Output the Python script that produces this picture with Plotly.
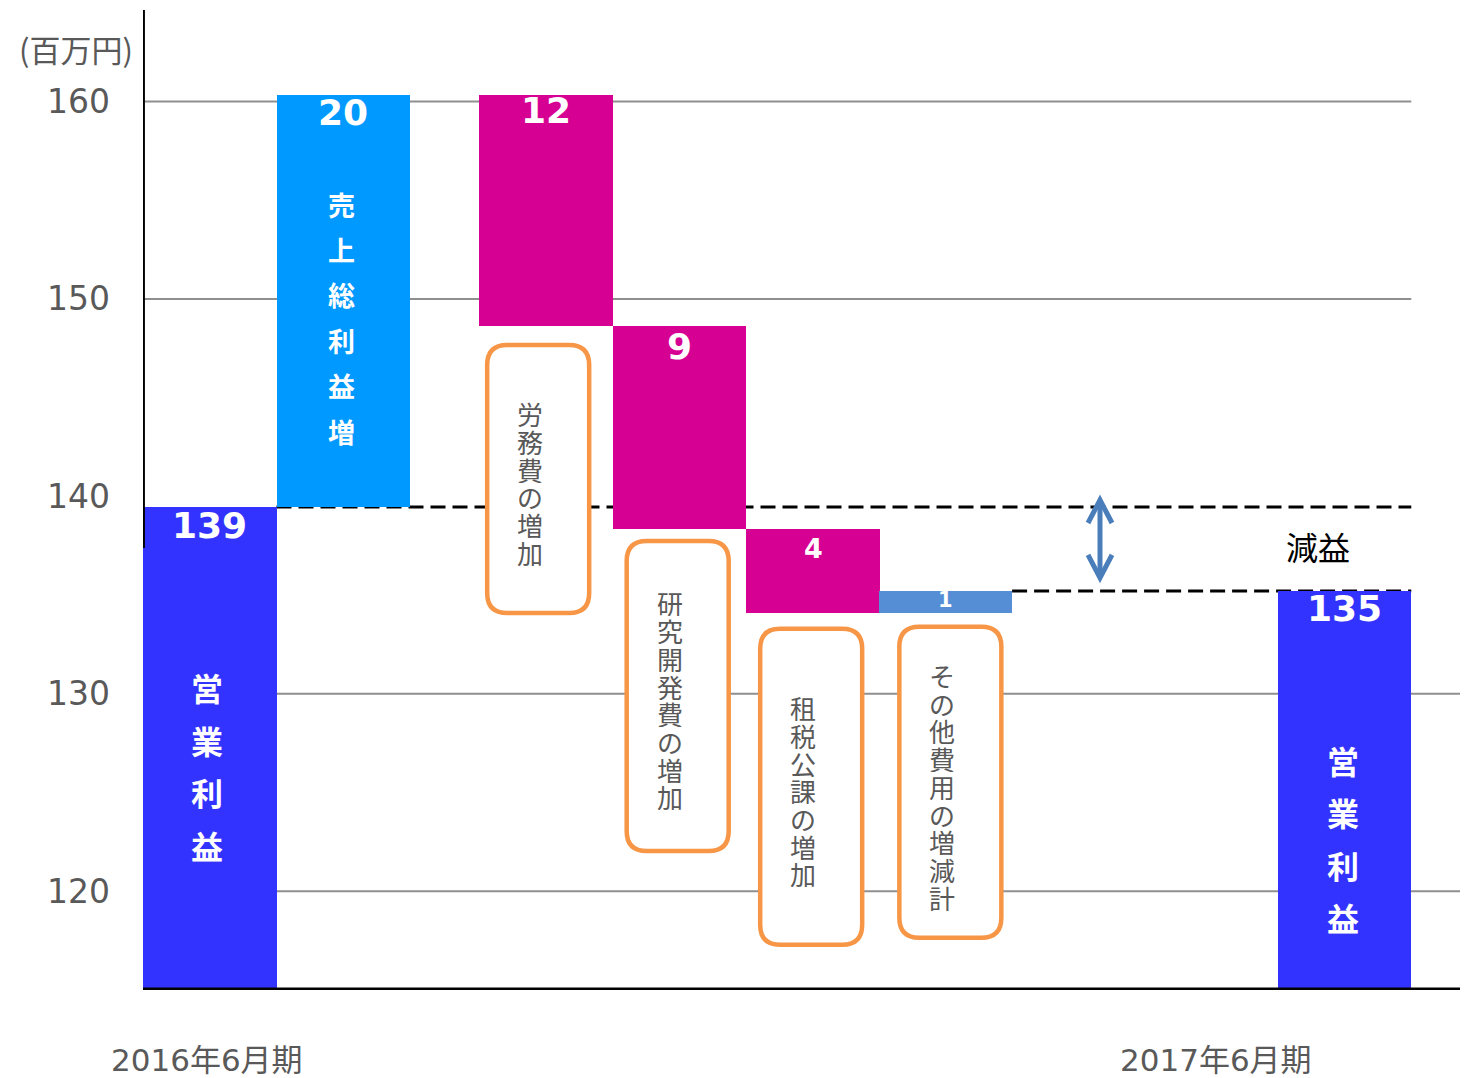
import plotly.graph_objects as go

# ---------------- data ----------------
steps = ["2016年6月期 営業利益", "売上総利益増", "労務費の増加", "研究開発費の増加",
         "租税公課の増加", "その他費用の増減計", "2017年6月期 営業利益"]
value_labels = ["139", "20", "12", "9", "4", "1", "135"]
bar_bottom = [115.0, 139.46, 148.63, 138.35, 134.10, 134.10, 115.0]
bar_top = [139.46, 160.33, 160.33, 148.63, 138.35, 135.21, 135.21]
step_slot = [0.5, 1.5, 3.02, 4.02, 5.02, 6.01, 9.0]
periods = ["2016年6月期", "2017年6月期"]
period_slot = [0.48, 8.04]
unit_label = "(百万円)"
y_ticks = [120, 130, 140, 150, 160]
inner_text = {0: "営業利益", 1: "売上総利益増", 6: "営業利益"}
box_text = {2: "労務費の増加", 3: "研究開発費の増加", 4: "租税公課の増加", 5: "その他費用の増減計"}
change_label = "減益"

# ---------------- layout / style ----------------
BODY = 8                      # default page margin around the plot div
W, H = 1468 - BODY, 1078 - BODY
PAGE_L, PAGE_T, PAGE_B = 143, 10, 990   # plot area edges on the page
M_L = PAGE_L - BODY
M_T = PAGE_T - BODY
M_B = H - (PAGE_B - BODY)
M_R = 0
X_RANGE = [0.0, 9.925]
Y_RANGE = [115.0, 164.63]
PLOT_W = W - M_L - M_R
PLOT_H = H - M_T - M_B
PX_X = PLOT_W / (X_RANGE[1] - X_RANGE[0])
PX_Y = PLOT_H / (Y_RANGE[1] - Y_RANGE[0])


def dx(px):
    return px / PX_X


def dy(px):
    return px / PX_Y


def yv(py):
    return Y_RANGE[1] - (py - PAGE_T) / PX_Y


def xv(px):
    return X_RANGE[0] + (px - PAGE_L) / PX_X


colors = ["#3333FF", "#0099FF", "#D60093", "#D60093", "#D60093", "#558ED5", "#3333FF"]
GRAY = "#595959"
ORANGE = "#F79646"
ARROW = "#4A7EBB"
NUM_FONT = "DejaVu Sans"
JP_FONT = "Noto Sans CJK JP"

fig = go.Figure(go.Bar(
    x=step_slot,
    y=[t - b for t, b in zip(bar_top, bar_bottom)],
    base=bar_bottom,
    width=1.0,
    marker=dict(color=colors, line=dict(width=0)),
    hoverinfo="skip",
    showlegend=False,
))

shapes = []
# gridlines
for v in y_ticks:
    if v == 140:
        continue
    x1 = step_slot[6] + 0.5 if v > 140 else X_RANGE[1]
    shapes.append(dict(type="line", xref="x", yref="y", x0=0, x1=x1, y0=v, y1=v,
                       line=dict(color="#8f8f8f", width=2), layer="below"))
# dashed reference levels
shapes.append(dict(type="line", xref="x", yref="y", x0=step_slot[0] + 0.5, x1=step_slot[6] + 0.5,
                   y0=bar_top[0], y1=bar_top[0],
                   line=dict(color="black", width=3, dash="15px,7px"), layer="below"))
shapes.append(dict(type="line", xref="x", yref="y", x0=step_slot[5] + 0.5, x1=step_slot[6] + 0.5,
                   y0=bar_top[6], y1=bar_top[6],
                   line=dict(color="black", width=3, dash="15px,7px"), layer="below"))

# rounded callout boxes below each cost bar
box_gap_px = {2: 19, 3: 12, 4: 16, 5: 14}
box_h_px = {2: 268, 3: 310, 4: 316, 5: 311}
box_off_px = {2: -8, 3: -2, 4: -2, 5: 5}
BOX_W = 102
R = 20
CHAR_SP = 27.7
annotations = []
for i, txt in box_text.items():
    cx = step_slot[i] + dx(box_off_px[i])
    x0, x1 = cx - dx(BOX_W / 2), cx + dx(BOX_W / 2)
    y1 = bar_bottom[i] - dy(box_gap_px[i])
    y0 = y1 - dy(box_h_px[i])
    rx, ry = dx(R), dy(R)
    path = (f"M {x0+rx},{y1} L {x1-rx},{y1} Q {x1},{y1} {x1},{y1-ry} "
            f"L {x1},{y0+ry} Q {x1},{y0} {x1-rx},{y0} L {x0+rx},{y0} "
            f"Q {x0},{y0} {x0},{y0+ry} L {x0},{y1-ry} Q {x0},{y1} {x0+rx},{y1} Z")
    shapes.append(dict(type="path", xref="x", yref="y", path=path,
                       fillcolor="white", line=dict(color=ORANGE, width=4.5), layer="below"))
    # vertical text (one character per cell), centered in the box
    ymid = (y0 + y1) / 2 - dy(4)
    n = len(txt)
    for k, ch in enumerate(txt):
        annotations.append(dict(x=cx - dx(8), y=ymid + dy((n - 1) / 2 * CHAR_SP - k * CHAR_SP),
                                xref="x", yref="y", text=ch, showarrow=False,
                                xanchor="center", yanchor="middle", height=27, borderpad=0,
                                font=dict(family=JP_FONT, size=26, color=GRAY)))

# y axis line (top part) and bottom axis line
shapes.append(dict(type="line", xref="x", yref="y", x0=0.007, x1=0.007, y0=Y_RANGE[1], y1=yv(548),
                   line=dict(color="black", width=2), layer="above"))
shapes.append(dict(type="line", xref="x", yref="y", x0=0, x1=X_RANGE[1], y0=Y_RANGE[0] + dy(1),
                   y1=Y_RANGE[0] + dy(1), line=dict(color="black", width=3), layer="above"))

# double-headed arrow between the two levels
ax = xv(1100)
a_top = bar_top[0] + dy(7)
a_bot = bar_top[6] + dy(13)
shapes.append(dict(type="line", xref="x", yref="y", x0=ax, x1=ax, y0=a_top - dy(2), y1=a_bot + dy(2),
                   line=dict(color=ARROW, width=5)))
for tip, sgn in ((a_top, -1), (a_bot, 1)):
    shapes.append(dict(type="path", xref="x", yref="y",
                       path=f"M {ax-dx(12)},{tip+sgn*dy(23)} L {ax},{tip} L {ax+dx(12)},{tip+sgn*dy(23)}",
                       line=dict(color=ARROW, width=5)))

# value labels on bars
num_off = [18, 18, 16, 21, 20, 9, 18]
num_size = [36, 36, 36, 36, 27, 21, 36]
for i, lab in enumerate(value_labels):
    annotations.append(dict(x=step_slot[i], y=bar_top[i], xref="x", yref="y", yshift=-num_off[i],
                            text=f"<b>{lab}</b>", showarrow=False, xanchor="center", yanchor="middle",
                            font=dict(family=NUM_FONT, size=num_size[i], color="white")))

# vertical texts inside bars
inner_cfg = {0: (-3, 687, 52.7, 32), 1: (-2, 204, 45.4, 27), 6: (-2, 760, 52.3, 32)}
for i, txt in inner_text.items():
    off, first, sp, size = inner_cfg[i]
    for k, ch in enumerate(txt):
        annotations.append(dict(x=step_slot[i] + dx(off), y=yv(first + k * sp), xref="x", yref="y",
                                text=f"<b>{ch}</b>", showarrow=False, xanchor="center", yanchor="middle",
                                font=dict(family=JP_FONT, size=size, color="white")))

# 減益
annotations.append(dict(x=xv(1318), y=(bar_top[0] + bar_top[6]) / 2 + dy(3), xref="x", yref="y",
                        text=change_label, showarrow=False, xanchor="center", yanchor="middle",
                        font=dict(family=JP_FONT, size=32, color="black")))

# unit label
annotations.append(dict(x=(76 - PAGE_L) / PLOT_W, y=yv(48), xref="paper", yref="y", text=unit_label,
                        showarrow=False, xanchor="center", yanchor="middle",
                        font=dict(family=JP_FONT, size=31, color=GRAY)))

# period labels
for p, sx in zip(periods, period_slot):
    annotations.append(dict(x=sx, y=-(1060 - PAGE_B) / PLOT_H, xref="x", yref="paper", text=p,
                            showarrow=False, xanchor="center", yanchor="middle",
                            font=dict(family=f"{NUM_FONT}, {JP_FONT}", size=31, color=GRAY)))

fig.update_layout(
    width=W, height=H,
    margin=dict(l=M_L, r=M_R, t=M_T, b=M_B, pad=0),
    paper_bgcolor="white", plot_bgcolor="white",
    xaxis=dict(range=X_RANGE, visible=False, fixedrange=True),
    yaxis=dict(range=Y_RANGE, tickvals=y_ticks, showgrid=False, zeroline=False, showline=False,
               ticks="", ticklabelstandoff=32,
               tickfont=dict(family=NUM_FONT, size=33, color=GRAY), fixedrange=True),
    shapes=shapes,
    annotations=annotations,
    bargap=0,
)

fig.write_html("out.html")
